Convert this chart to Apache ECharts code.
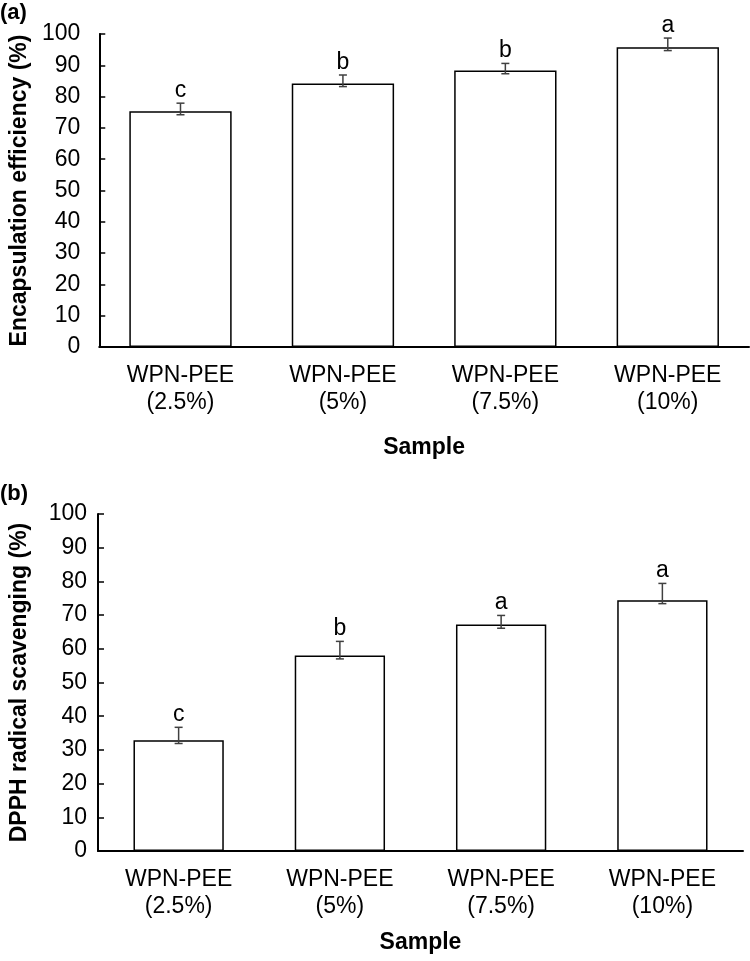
<!DOCTYPE html>
<html>
<head>
<meta charset="utf-8">
<script src="https://cdn.jsdelivr.net/npm/echarts@6/dist/echarts.min.js"></script>
<style>
  html, body { margin: 0; padding: 0; background: #fff; }
  #myChart { width: 750px; height: 961px; }
</style>
</head>
<body>
<div id="myChart"></div>
<script>
// samples
const categories = ["WPN-PEE\n(2.5%)", "WPN-PEE\n(5%)", "WPN-PEE\n(7.5%)", "WPN-PEE\n(10%)"];
const yTicks = [0, 10, 20, 30, 40, 50, 60, 70, 80, 90, 100];

// (a) encapsulation efficiency
const effMean = [75.3, 84.2, 88.3, 95.8];
const effLow = [74.2, 83.2, 87.3, 94.7];
const effHigh = [77.9, 86.9, 90.6, 98.7];
const effLetters = ["c", "b", "b", "a"];

// (b) DPPH radical scavenging
const dpphMean = [32.9, 58.0, 67.2, 74.4];
const dpphLow = [31.9, 57.0, 66.1, 73.4];
const dpphHigh = [36.7, 62.2, 69.9, 79.4];
const dpphLetters = ["c", "b", "a", "a"];

const FONT = '"Liberation Sans", Arial, sans-serif';

function errorRender(letters) {
  return function (params, api) {
    const i = api.value(0);
    const lo = api.coord([i, api.value(1)]);
    const hi = api.coord([i, api.value(2)]);
    const half = 4;
    const ls = { stroke: "#404040", lineWidth: 1.5 };
    return {
      type: "group",
      children: [
        { type: "line", shape: { x1: lo[0], y1: lo[1], x2: hi[0], y2: hi[1] }, style: ls },
        { type: "line", shape: { x1: lo[0] - half, y1: lo[1], x2: lo[0] + half, y2: lo[1] }, style: ls },
        { type: "line", shape: { x1: hi[0] - half, y1: hi[1], x2: hi[0] + half, y2: hi[1] }, style: ls },
        {
          type: "text",
          style: {
            text: letters[i], x: hi[0], y: hi[1] - 1,
            align: "center", verticalAlign: "bottom",
            fontSize: 23, fontFamily: FONT, fill: "#000",
          },
        },
      ],
    };
  };
}

function xAxisOf(gridIndex, gap) {
  return {
    type: "category",
    gridIndex: gridIndex,
    data: categories,
    name: "Sample",
    nameLocation: "middle",
    nameGap: gap,
    nameTextStyle: { fontSize: 23, fontWeight: "bold", fontFamily: FONT, color: "#000" },
    axisLine: { lineStyle: { color: "#000", width: 2 } },
    axisTick: { inside: true, length: 5, lineStyle: { color: "#000", width: 1.5 } },
    axisLabel: { fontSize: 23, fontFamily: FONT, color: "#000", lineHeight: 27, margin: 15 },
  };
}

function yAxisOf(gridIndex, title, gap, margin) {
  return {
    type: "value",
    gridIndex: gridIndex,
    min: yTicks[0],
    max: yTicks[yTicks.length - 1],
    interval: 10,
    name: title,
    nameLocation: "middle",
    nameGap: gap,
    nameTextStyle: { fontSize: 23, fontWeight: "bold", fontFamily: FONT, color: "#000" },
    axisLine: { show: true, lineStyle: { color: "#000", width: 2 } },
    axisTick: { show: true, inside: true, length: 6, lineStyle: { color: "#000", width: 1.5 } },
    axisLabel: { fontSize: 23, fontFamily: FONT, color: "#000", margin: margin },
    splitLine: { show: false },
  };
}

let chart = echarts.init(document.getElementById("myChart"));
let option = {
  animation: false,
  backgroundColor: "#fff",
  grid: [
    { left: 93, top: 34, width: 656, height: 313 },
    { left: 98, top: 514, width: 645, height: 337 },
  ],
  graphic: [
    { type: "text", left: 0, top: 2, style: { text: "(a)", fontSize: 22, fontWeight: "bold", fontFamily: FONT, fill: "#000" } },
    { type: "text", left: 0, top: 483, style: { text: "(b)", fontSize: 22, fontWeight: "bold", fontFamily: FONT, fill: "#000" } },
  ],
  xAxis: [xAxisOf(0, 89), xAxisOf(1, 80)],
  yAxis: [
    yAxisOf(0, "Encapsulation efficiency (%)", 62, 19),
    yAxisOf(1, "DPPH radical scavenging (%)", 67, 11),
  ],
  series: [
    {
      type: "bar", xAxisIndex: 0, yAxisIndex: 0, data: effMean, barWidth: "63%",
      itemStyle: { color: "#fff", borderColor: "#000", borderWidth: 1.5 },
    },
    {
      type: "custom", xAxisIndex: 0, yAxisIndex: 0, z: 5,
      renderItem: errorRender(effLetters),
      data: effMean.map((v, i) => [i, effLow[i], effHigh[i]]),
    },
    {
      type: "bar", xAxisIndex: 1, yAxisIndex: 1, data: dpphMean, barWidth: "56%",
      itemStyle: { color: "#fff", borderColor: "#000", borderWidth: 1.5 },
    },
    {
      type: "custom", xAxisIndex: 1, yAxisIndex: 1, z: 5,
      renderItem: errorRender(dpphLetters),
      data: dpphMean.map((v, i) => [i, dpphLow[i], dpphHigh[i]]),
    },
  ],
};
chart.setOption(option);
</script>
</body>
</html>
